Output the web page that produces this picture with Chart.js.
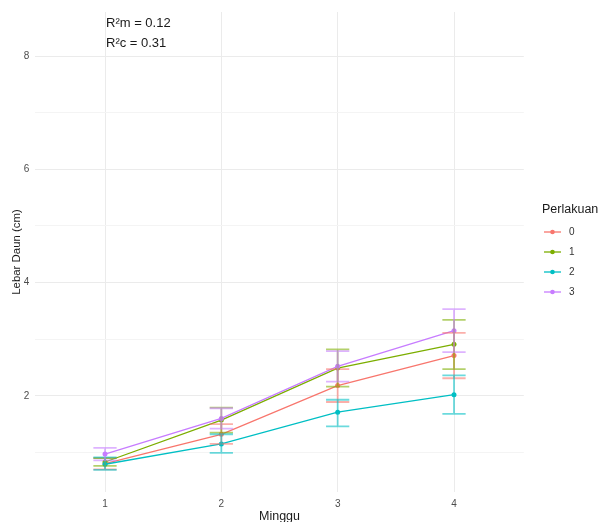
<!DOCTYPE html>
<html>
<head>
<meta charset="utf-8">
<script src="https://cdn.jsdelivr.net/npm/chart.js@4.4.1/dist/chart.umd.min.js"></script>
<style>
  html, body { margin: 0; padding: 0; background: #ffffff; overflow: hidden; }
  #wrap { width: 599px; height: 522px; position: relative; }
</style>
</head>
<body>
<div id="wrap"><canvas id="c" width="599" height="522"></canvas></div>
<script>
// Weeks (Minggu) on the x axis
const weeks = [1, 2, 3, 4];

// Treatment groups (Perlakuan) and their colours
const groups = ['0', '1', '2', '3'];
const groupColors = ['#F8766D', '#7CAE00', '#00BFC4', '#C77CFF'];

// Mean leaf width (cm) per week, with lower / upper error bar limits
const mean0 = [0.80, 1.32, 2.18, 2.71];
const lower0 = [0.70, 1.15, 1.89, 2.31];
const upper0 = [0.90, 1.50, 2.47, 3.11];

const mean1 = [0.83, 1.57, 2.49, 2.91];
const lower1 = [0.76, 1.35, 2.16, 2.47];
const upper1 = [0.90, 1.79, 2.82, 3.34];

const mean2 = [0.79, 1.15, 1.71, 2.02];
const lower2 = [0.69, 0.99, 1.46, 1.68];
const upper2 = [0.91, 1.32, 1.93, 2.36];

const mean3 = [0.97, 1.60, 2.52, 3.15];
const lower3 = [0.86, 1.42, 2.25, 2.77];
const upper3 = [1.08, 1.78, 2.79, 3.53];

// Y axis ticks (labels on even values, lighter minor lines on odd ones)
const yTicks = [1, 2, 3, 4, 5, 6, 7, 8];

// Model fit annotation, anchored at week 1
const annotationText = ['R\u00B2m = 0.12', 'R\u00B2c = 0.31'];
const annotationX = [1, 1];
const annotationY = [8.57, 8.22];

const means = [mean0, mean1, mean2, mean3];
const lowers = [lower0, lower1, lower2, lower3];
const uppers = [upper0, upper1, upper2, upper3];

const FONT = '"Liberation Sans", Arial, sans-serif';

function withAlpha(hex, a) {
  const r = parseInt(hex.slice(1, 3), 16);
  const g = parseInt(hex.slice(3, 5), 16);
  const b = parseInt(hex.slice(5, 7), 16);
  return `rgba(${r},${g},${b},${a})`;
}

// Vertical error bars with caps, placed through the chart scales
const errorBars = {
  id: 'errorBars',
  afterDatasetsDraw(chart) {
    const { ctx, scales: { x, y } } = chart;
    ctx.save();
    ctx.lineWidth = 1.8;
    groups.forEach((g, gi) => {
      ctx.strokeStyle = withAlpha(groupColors[gi], 0.58);
      weeks.forEach((w, i) => {
        const px = x.getPixelForValue(w);
        const left = x.getPixelForValue(w - 0.1);
        const right = x.getPixelForValue(w + 0.1);
        const top = y.getPixelForValue(uppers[gi][i]);
        const bot = y.getPixelForValue(lowers[gi][i]);
        ctx.beginPath();
        ctx.moveTo(px, top); ctx.lineTo(px, bot);
        ctx.moveTo(left, top); ctx.lineTo(right, top);
        ctx.moveTo(left, bot); ctx.lineTo(right, bot);
        ctx.stroke();
      });
    });
    ctx.restore();
  }
};

// Text annotation in data coordinates
const fitNote = {
  id: 'fitNote',
  afterDraw(chart) {
    const { ctx, scales: { x, y } } = chart;
    ctx.save();
    ctx.font = `13px ${FONT}`;
    ctx.fillStyle = '#1a1a1a';
    ctx.textAlign = 'left';
    ctx.textBaseline = 'middle';
    annotationText.forEach((t, i) => {
      ctx.fillText(t, x.getPixelForValue(annotationX[i]) + 1, y.getPixelForValue(annotationY[i]));
    });
    ctx.restore();
  }
};

// Legend on the right: title plus line-and-point keys
const sideLegend = {
  id: 'sideLegend',
  afterDraw(chart) {
    const { ctx } = chart;
    ctx.save();
    ctx.font = `12.5px ${FONT}`;
    ctx.fillStyle = '#1a1a1a';
    ctx.textAlign = 'left';
    ctx.textBaseline = 'middle';
    ctx.fillText('Perlakuan', 542, 210);
    groups.forEach((g, i) => {
      const cy = 232 + i * 20;
      ctx.strokeStyle = groupColors[i];
      ctx.lineWidth = 1.3;
      ctx.beginPath();
      ctx.moveTo(544, cy); ctx.lineTo(561, cy);
      ctx.stroke();
      ctx.fillStyle = groupColors[i];
      ctx.beginPath();
      ctx.arc(552.5, cy, 2.3, 0, Math.PI * 2);
      ctx.fill();
      ctx.fillStyle = '#333333';
      ctx.font = `10px ${FONT}`;
      ctx.fillText(g, 569, cy);
    });
    ctx.restore();
  }
};

const datasets = groups.map((g, gi) => ({
  label: g,
  data: weeks.map((w, i) => ({ x: w, y: means[gi][i] })),
  borderColor: groupColors[gi],
  backgroundColor: groupColors[gi],
  borderWidth: 1.3,
  pointRadius: 2.5,
  pointBorderWidth: 0,
  pointHoverRadius: 2.5,
  tension: 0,
  order: groups.length - gi
}));

new Chart(document.getElementById('c'), {
  type: 'line',
  data: { datasets },
  plugins: [errorBars, fitNote, sideLegend],
  options: {
    responsive: false,
    animation: false,
    devicePixelRatio: 1,
    layout: { padding: { top: 12, right: 75.2, bottom: 0, left: 0 } },
    plugins: { legend: { display: false }, tooltip: { enabled: false } },
    scales: {
      x: {
        type: 'linear',
        min: 0.4,
        max: 4.6,
        afterBuildTicks: s => { s.ticks = weeks.map(v => ({ value: v })); },
        afterFit: s => { s.height = 30; },
        border: { display: false },
        grid: { color: '#EBEBEB', lineWidth: 1, drawTicks: false },
        ticks: {
          font: { family: FONT, size: 10 },
          color: '#4D4D4D',
          padding: 6,
          maxRotation: 0,
          callback: v => String(v)
        },
        title: {
          display: true,
          text: 'Minggu',
          font: { family: FONT, size: 12.5 },
          color: '#1a1a1a',
          padding: { top: 0, bottom: -2 }
        }
      },
      y: {
        min: 0.3,
        max: 8.78,
        afterBuildTicks: s => { s.ticks = yTicks.map(v => ({ value: v })); },
        afterFit: s => { s.width = 35.2; },
        border: { display: false },
        grid: {
          color: c => (c.tick && c.tick.value % 2 === 0) ? '#EBEBEB' : '#F4F4F4',
          lineWidth: 1,
          drawTicks: false
        },
        ticks: {
          font: { family: FONT, size: 10 },
          color: '#4D4D4D',
          padding: 6,
          callback: v => (v % 2 === 0 ? String(v) : '')
        },
        title: {
          display: true,
          text: 'Lebar Daun (cm)',
          font: { family: FONT, size: 11.4 },
          color: '#1a1a1a',
          padding: { top: 10, bottom: 0 }
        }
      }
    }
  }
});
</script>
</body>
</html>
